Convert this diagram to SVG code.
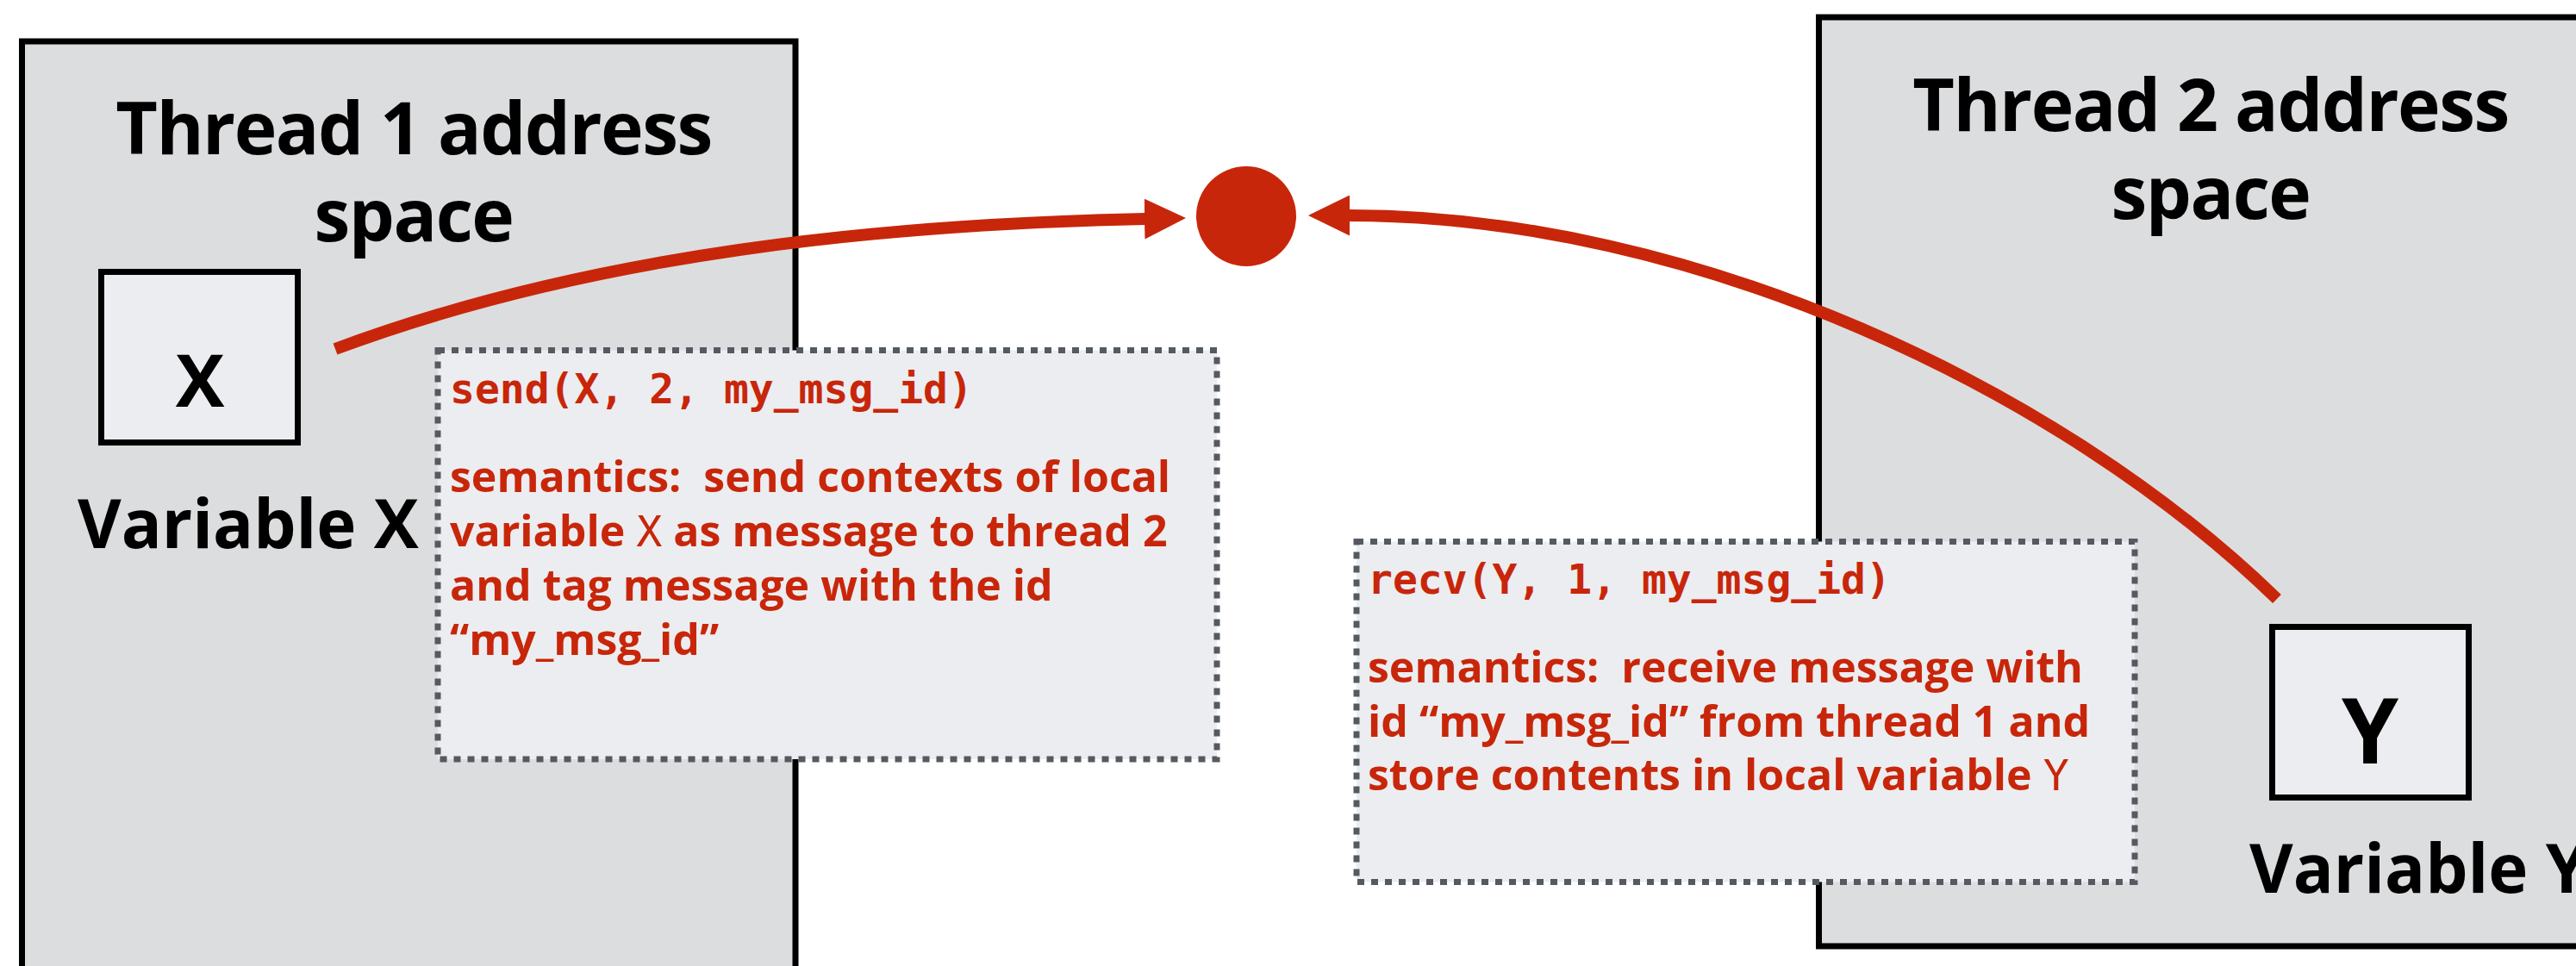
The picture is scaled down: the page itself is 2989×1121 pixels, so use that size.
<svg xmlns="http://www.w3.org/2000/svg" width="2989" height="1121" viewBox="0 0 2989 1121">
  <style>
    .space { fill: #DCDDDF; stroke: #000; stroke-width: 7; }
    .var { fill: #ECEDF0; stroke: #000; stroke-width: 7; }
    .note { fill: #ECEDF0; stroke: #555A61; stroke-width: 7; stroke-dasharray: 8 8; }
    .title { font-family: "Open Sans", "Noto Sans", sans-serif; font-weight: 700; font-size: 84px; fill: #000; text-anchor: middle; letter-spacing: -1.5px; }
    .label { font-family: "Open Sans", "Noto Sans", sans-serif; font-weight: 700; font-size: 78px; fill: #000; }
    .big { font-family: "Open Sans", "Noto Sans", sans-serif; font-weight: 700; fill: #000; text-anchor: middle; }
    .code { font-family: "DejaVu Sans Mono", "Liberation Mono", monospace; font-weight: 700; font-size: 48px; fill: #C8260A; }
    .sem { font-family: "Open Sans", "Noto Sans", sans-serif; font-weight: 700; font-size: 50px; fill: #C8260A; }
    .mono { font-family: "DejaVu Sans Mono", "Liberation Mono", monospace; font-weight: 400; }
    .conn { fill: none; stroke: #C8260A; stroke-width: 14; }
  </style>
  <defs>
    <marker id="ah" markerUnits="userSpaceOnUse" markerWidth="48" markerHeight="47" viewBox="0 0 48 47" refX="1" refY="23.5" orient="auto">
      <path d="M0,0 L48,23.5 L0,47 z" fill="#C8260A"/>
    </marker>
  </defs>

  <g id="thread1">
    <rect class="space" x="25.5" y="48" width="897.5" height="1100"/>
    <text class="title" x="480" y="179">Thread 1 address</text>
    <text class="title" x="480" y="280">space</text>
  </g>

  <g id="thread2">
    <rect class="space" x="2110.5" y="20" width="950" height="1078"/>
    <text class="title" x="2565" y="152">Thread 2 address</text>
    <text class="title" x="2565" y="254">space</text>
  </g>

  <g id="varX">
    <rect class="var" x="117.5" y="315.5" width="228" height="198"/>
    <text class="big" x="232" y="472" font-size="85">X</text>
    <text class="label" x="90" y="636">Variable X</text>
  </g>

  <g id="varY">
    <rect class="var" x="2636.5" y="727.5" width="228" height="198"/>
    <text class="big" x="2750" y="886" font-size="106">Y</text>
    <text class="label" x="2610" y="1036">Variable Y</text>
  </g>

  <g id="sendNote">
    <rect class="note" x="508" y="406.5" width="904" height="474.5"/>
    <text class="code" x="522" y="468" xml:space="preserve">send(X, 2, my_msg_id)</text>
    <text class="sem" x="522" y="571" xml:space="preserve">semantics:  send contexts of local</text>
    <text class="sem" x="522" y="634">variable <tspan class="mono">X</tspan> as message to thread 2</text>
    <text class="sem" x="522" y="697">and tag message with the id</text>
    <text class="sem" x="522" y="760">“my_msg_id”</text>
  </g>

  <g id="recvNote">
    <rect class="note" x="1574" y="628.5" width="903" height="395"/>
    <text class="code" x="1587" y="689" xml:space="preserve">recv(Y, 1, my_msg_id)</text>
    <text class="sem" x="1587" y="792" xml:space="preserve">semantics:  receive message with</text>
    <text class="sem" x="1587" y="855">id “my_msg_id” from thread 1 and</text>
    <text class="sem" x="1587" y="917">store contents in local variable <tspan class="mono">Y</tspan></text>
  </g>

  <g id="message">
    <circle cx="1446" cy="251" r="58" fill="#C8260A"/>
  </g>

  <g id="connectors">
    <path class="conn" d="M389,405 C689,293 1030,260 1329,254" marker-end="url(#ah)"/>
    <path class="conn" d="M2642,695 C2391,451 1964,250 1565,250" marker-end="url(#ah)"/>
  </g>
</svg>
